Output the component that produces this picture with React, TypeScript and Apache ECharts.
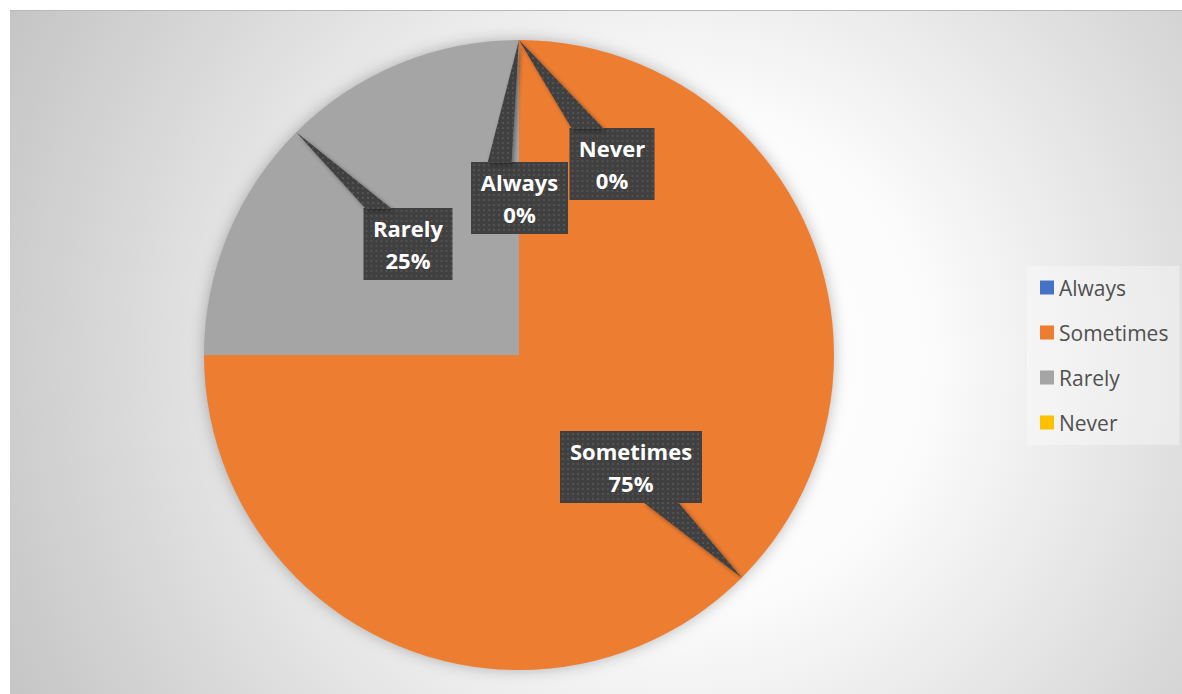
import React, { useEffect, useRef } from 'react';
import * as echarts from 'echarts';

// ---- data ----
const categories = ['Always', 'Sometimes', 'Rarely', 'Never'];
const values = [0, 75, 25, 0];
const colors = ['#4472C4', '#ED7D31', '#A5A5A5', '#FFC000'];

// ---- layout (code, not data) ----
const CENTER = [519, 355];
const RADIUS = 315;
// callout box centre, content width, wedge base offsets (x relative to centre), edge of box the wedge leaves from
const CALLOUTS = [
  { cx: 519.5, cy: 198, w: 77, base: [-32, -8], edge: 'top' },
  { cx: 631, cy: 467, w: 122, base: [12, 47], edge: 'bottom' },
  { cx: 408, cy: 244, w: 69, base: [-42, -16], edge: 'top' },
  { cx: 612, cy: 164, w: 65, base: [-40, -8], edge: 'top' },
];
const BOX_H = 72;

function makePattern(w: number, h: number): HTMLCanvasElement {
  const c = document.createElement('canvas');
  c.width = Math.max(1, Math.round(w));
  c.height = Math.max(1, Math.round(h));
  const ctx = c.getContext('2d')!;
  ctx.fillStyle = '#404040';
  ctx.fillRect(0, 0, c.width, c.height);
  ctx.fillStyle = '#525252';
  for (let x = 0; x < c.width; x += 5) {
    for (let y = 0; y < c.height; y += 5) {
      ctx.fillRect(x + 2, y + 2, 2, 2);
    }
  }
  return c;
}

export default function App() {
  const ref = useRef<HTMLDivElement>(null);

  useEffect(() => {
    if (!ref.current) return;
    const chart = echarts.init(ref.current, undefined, { renderer: 'svg' });

    const total = values.reduce((a, b) => a + b, 0);
    let cum = 0;
    const tile = makePattern(5, 5);
    const wedges: any[] = [];
    values.forEach((v, i) => {
      const mid = ((cum + v / 2) / total) * Math.PI * 2;
      cum += v;
      const tip = [CENTER[0] + RADIUS * Math.sin(mid), CENTER[1] - RADIUS * Math.cos(mid)];
      const c = CALLOUTS[i];
      const by = c.edge === 'top' ? c.cy - BOX_H / 2 + 1 : c.cy + BOX_H / 2 - 1;
      wedges.push({
        type: 'polygon',
        z: 3,
        silent: true,
        shape: { points: [[c.cx + c.base[0], by], [c.cx + c.base[1], by], tip] },
        style: {
          fill: { image: tile, repeat: 'repeat', imageWidth: 5, imageHeight: 5 },
          shadowBlur: 4,
          shadowColor: 'rgba(0,0,0,0.4)',
          shadowOffsetX: 2,
          shadowOffsetY: 2,
        },
      });
    });

    const data = categories.map((name, i) => ({
      name,
      value: values[i],
      itemStyle: { color: colors[i] },
      label: {
        width: CALLOUTS[i].w,
        overflow: 'none',
        backgroundColor: { image: makePattern(CALLOUTS[i].w + 20, BOX_H) },
      },
    }));

    chart.setOption({
      animation: false,
      color: colors,
      graphic: [
        {
          type: 'rect',
          z: -10,
          silent: true,
          shape: { x: 10, y: 10, width: 1172, height: 684 },
          style: {
            fill: new echarts.graphic.RadialGradient(680, 360, 760, [
              { offset: 0, color: '#ffffff' },
              { offset: 0.32, color: '#fcfcfc' },
              { offset: 0.55, color: '#e9e9e9' },
              { offset: 0.75, color: '#d8d8d8' },
              { offset: 1, color: '#c4c4c4' },
            ], true),
          },
        },
        {
          type: 'line',
          z: -9,
          silent: true,
          shape: { x1: 10, y1: 10.5, x2: 1182, y2: 10.5 },
          style: { stroke: '#b8b8b8', lineWidth: 1 },
        },
        {
          type: 'circle',
          z: 1,
          silent: true,
          shape: { cx: CENTER[0], cy: CENTER[1], r: RADIUS - 1 },
          style: { fill: '#b0b0b0', shadowBlur: 16, shadowColor: 'rgba(0,0,0,0.3)' },
        },
        ...wedges,
      ],
      legend: {
        orient: 'vertical',
        left: 1027,
        top: 266,
        padding: [11, 11, 12, 13],
        itemGap: 24,
        itemWidth: 14,
        itemHeight: 14,
        icon: 'rect',
        backgroundColor: 'rgba(255,255,255,0.35)',
        selectedMode: false,
        textStyle: { fontFamily: 'Open Sans', fontSize: 21, color: '#505050', lineHeight: 21 },
        data: categories,
      },
      series: [
        {
          type: 'pie',
          z: 2,
          center: CENTER,
          radius: RADIUS,
          startAngle: 90,
          clockwise: true,
          silent: true,
          avoidLabelOverlap: false,
          emphasis: { disabled: true },
          label: {
            show: true,
            formatter: '{b}\n{d}%',
            color: '#ffffff',
            fontFamily: 'Open Sans',
            fontWeight: 'bold',
            fontSize: 22,
            lineHeight: 32,
            padding: [4, 10],
            align: 'center',
            overflow: 'none',
            shadowBlur: 5,
            shadowColor: 'rgba(0,0,0,0.45)',
            shadowOffsetX: 3,
            shadowOffsetY: 3,
          },
          labelLine: { show: false },
          labelLayout: (params: any) => {
            const c = CALLOUTS[params.dataIndex];
            return { x: c.cx, y: c.cy, align: 'center', verticalAlign: 'middle' };
          },
          data,
        },
      ],
    });

    return () => chart.dispose();
  }, []);

  return (
    <div
      ref={ref}
      style={{ position: 'absolute', left: 0, top: 0, width: 1182, height: 694 }}
    />
  );
}
